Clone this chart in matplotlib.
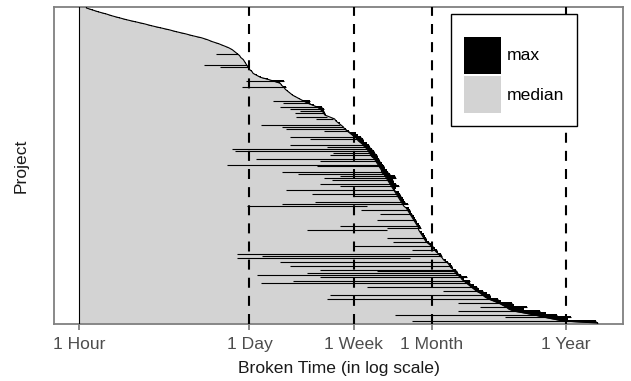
import numpy as np
import matplotlib
matplotlib.use("Agg")
import matplotlib.pyplot as plt
from matplotlib.patches import Rectangle
from matplotlib.ticker import NullLocator

# per-project broken time, log10(hours), sorted by median (top -> bottom)
median_log10h = [
    0.06, 0.11, 0.16, 0.22, 0.27, 0.33, 0.39, 0.46, 0.53, 0.59,
    0.66, 0.73, 0.79, 0.86, 0.92, 0.99, 1.04, 1.08, 1.13, 1.17,
    1.21, 1.24, 1.26, 1.28, 1.30, 1.31, 1.33, 1.34, 1.35, 1.36,
    1.37, 1.38, 1.40, 1.41, 1.44, 1.47, 1.53, 1.58, 1.63, 1.64,
    1.66, 1.67, 1.69, 1.71, 1.73, 1.76, 1.79, 1.82, 1.85, 1.89,
    1.93, 1.95, 1.97, 1.98, 1.99, 2.03, 2.07, 2.08, 2.10, 2.12,
    2.14, 2.15, 2.17, 2.19, 2.21, 2.23, 2.25, 2.26, 2.28, 2.30,
    2.31, 2.33, 2.34, 2.35, 2.36, 2.37, 2.39, 2.40, 2.41, 2.42,
    2.43, 2.44, 2.45, 2.45, 2.47, 2.48, 2.49, 2.50, 2.51, 2.52,
    2.53, 2.54, 2.55, 2.56, 2.57, 2.58, 2.59, 2.60, 2.61, 2.62,
    2.63, 2.65, 2.66, 2.67, 2.68, 2.69, 2.70, 2.71, 2.72, 2.73,
    2.74, 2.75, 2.75, 2.76, 2.77, 2.78, 2.79, 2.80, 2.81, 2.83,
    2.85, 2.86, 2.88, 2.89, 2.91, 2.92, 2.94, 2.95, 2.97, 2.99,
    3.00, 3.01, 3.03, 3.04, 3.05, 3.07, 3.09, 3.10, 3.12, 3.14,
    3.16, 3.18, 3.20, 3.22, 3.25, 3.27, 3.29, 3.32, 3.36, 3.40,
    3.43, 3.46, 3.48, 3.52, 3.61, 3.69, 3.76, 3.84, 3.92, 4.20,
]
max_log10h = [
    0.06, 0.11, 0.16, 0.22, 0.27, 0.33, 0.39, 0.46, 0.53, 0.59,
    0.66, 0.73, 0.79, 0.86, 0.92, 0.99, 1.04, 1.08, 1.13, 1.17,
    1.21, 1.24, 1.26, 1.29, 1.30, 1.31, 1.33, 1.34, 1.35, 1.36,
    1.37, 1.38, 1.40, 1.41, 1.44, 1.47, 1.53, 1.66, 1.63, 1.64,
    1.68, 1.67, 1.69, 1.71, 1.73, 1.76, 1.79, 1.87, 1.87, 1.90,
    1.97, 1.98, 1.98, 1.99, 2.00, 2.01, 2.06, 2.09, 2.11, 2.11,
    2.14, 2.16, 2.19, 2.24, 2.26, 2.28, 2.30, 2.31, 2.33, 2.35,
    2.36, 2.37, 2.39, 2.40, 2.41, 2.42, 2.43, 2.44, 2.45, 2.46,
    2.47, 2.48, 2.49, 2.50, 2.52, 2.56, 2.57, 2.54, 2.55, 2.57,
    2.59, 2.57, 2.56, 2.59, 2.60, 2.61, 2.62, 2.63, 2.64, 2.66,
    2.33, 2.67, 2.68, 2.69, 2.70, 2.71, 2.72, 2.73, 2.74, 2.75,
    2.76, 2.77, 2.49, 2.78, 2.79, 2.80, 2.81, 2.82, 2.83, 2.85,
    2.87, 2.88, 2.90, 2.91, 2.93, 2.94, 2.68, 2.97, 2.99, 3.01,
    3.02, 3.03, 3.05, 3.06, 3.07, 3.09, 3.14, 3.12, 3.17, 3.17,
    3.20, 3.22, 3.24, 3.27, 3.30, 3.33, 3.34, 3.39, 3.42, 3.51,
    3.52, 3.63, 3.60, 3.73, 3.78, 3.87, 3.98, 3.96, 4.19, 4.20,
]
# projects whose max-bar is visible as a thin line across the median area
line_rows = [
    23, 29, 30, 37, 40, 47, 48, 50, 51, 52, 53, 55, 56, 59, 60, 61, 62, 65,
    66, 69, 70, 71, 72, 73, 74, 76, 77, 79, 80, 83, 84, 85, 86, 87, 89, 90,
    92, 94, 95, 98, 99, 100, 102, 104, 107, 110, 111, 112, 116, 118, 120,
    122, 124, 125, 126, 128, 130, 132, 133, 134, 135, 136, 138, 139, 141,
    143, 145, 147, 149, 151, 153, 155, 156, 158,
]
line_start_log10h = [
    1.11, 1.01, 1.14, 1.35, 1.32, 1.57, 1.65, 1.63, 1.71, 1.79, 1.75, 1.76,
    1.92, 1.47, 1.64, 1.68, 1.98, 1.71, 1.87, 1.71, 2.01, 1.24, 1.26, 2.06,
    2.03, 1.43, 1.95, 1.20, 1.93, 1.64, 1.77, 2.11, 1.98, 2.05, 1.95, 2.11,
    1.68, 1.89, 2.22, 1.91, 1.64, 1.36, 2.28, 2.44, 2.41, 2.11, 2.49, 1.85,
    2.49, 2.54, 2.22, 2.70, 1.28, 1.48, 1.28, 1.63, 1.71, 1.95, 2.41, 1.85,
    1.44, 1.95, 1.73, 1.47, 2.33, 2.95, 2.03, 2.01, 3.07, 3.25, 3.07, 2.56,
    3.45, 2.70,
]
tick_hours = [1, 24, 168, 720, 8760]
tick_labels = ["1 Hour", "1 Day", "1 Week", "1 Month", "1 Year"]
ref_hours = [24, 168, 720, 8760]
legend_labels = ["max", "median"]

plt.rcParams["font.family"] = ["Liberation Sans", "DejaVu Sans"]
FS = 12.6
GREY = "#d3d3d3"
legend_colors = ["black", GREY]

W, H = 631, 381
fig = plt.figure(figsize=(W / 100, H / 100), dpi=100)
ax = fig.add_axes([54 / W, 1 - 324 / H, (623 - 54) / W, (324 - 7) / H])

med = 10 ** np.array(median_log10h)
mx = 10 ** np.array(max_log10h)
n = len(med)
rows = np.arange(n)

ys = np.column_stack([rows - 0.5, rows + 0.5]).ravel()
mx_s = np.repeat(mx, 2)

# median outline through row centres, extended to the outer edges
ym = np.concatenate([[-0.5], rows, [n - 0.5]])
medm = np.concatenate([[med[0]], med, [med[-1]]])

ax.fill_betweenx(ys, 1, mx_s, color="black", lw=0, zorder=1)
ax.fill_betweenx(ym, 1, medm, color=GREY, lw=0, zorder=2)
ax.plot(medm, ym, color="black", lw=0.8, zorder=3)

lr = np.array(line_rows)
ax.hlines(lr, 10 ** np.array(line_start_log10h), mx[lr], color="black",
          lw=0.8, zorder=4)
ax.plot([1, 1], [-0.5, n - 0.5], color="black", lw=0.8, zorder=4)

for h in ref_hours:
    ax.axvline(h, color="black", lw=1.5, ls=(0, (4.8, 3.9)), zorder=5)

ax.set_xscale("log")
ax.set_xlim(10 ** -0.2024, 10 ** (544 / 123.5))
ax.set_ylim(n - 0.5, -0.5)
ax.set_xticks(tick_hours)
ax.set_xticklabels(tick_labels)
ax.xaxis.set_minor_locator(NullLocator())
ax.set_yticks([])

for s in ax.spines.values():
    s.set_color("#808080")
    s.set_linewidth(1.3)
ax.tick_params(axis="x", length=4.5, width=1.3, color="#808080",
               labelsize=FS, labelcolor="#4d4d4d", pad=5)
ax.set_xlabel("Broken Time (in log scale)", fontsize=FS, color="#1a1a1a",
              labelpad=6)
ax.set_ylabel("Project", fontsize=FS, color="#1a1a1a", labelpad=18)

# legend box (figure pixel layout, origin top-left)
def fx(px):
    return px / W

def fy(py):
    return 1 - py / H

fig.patches.append(Rectangle((fx(451), fy(126)), fx(577) - fx(451),
                             fy(14) - fy(126), transform=fig.transFigure,
                             facecolor="white", edgecolor="black", lw=1.0,
                             zorder=10))
key_tops = [37, 76]
for lab, col, top in zip(legend_labels, legend_colors, key_tops):
    fig.patches.append(Rectangle((fx(464), fy(top + 37)), fx(501) - fx(464),
                                 fy(top) - fy(top + 37),
                                 transform=fig.transFigure, facecolor=col,
                                 edgecolor="none", zorder=11))
    fig.text(fx(507), fy(top + 19), lab, fontsize=FS, color="black",
             ha="left", va="center", zorder=12)

fig.savefig("out.png", dpi=100)
